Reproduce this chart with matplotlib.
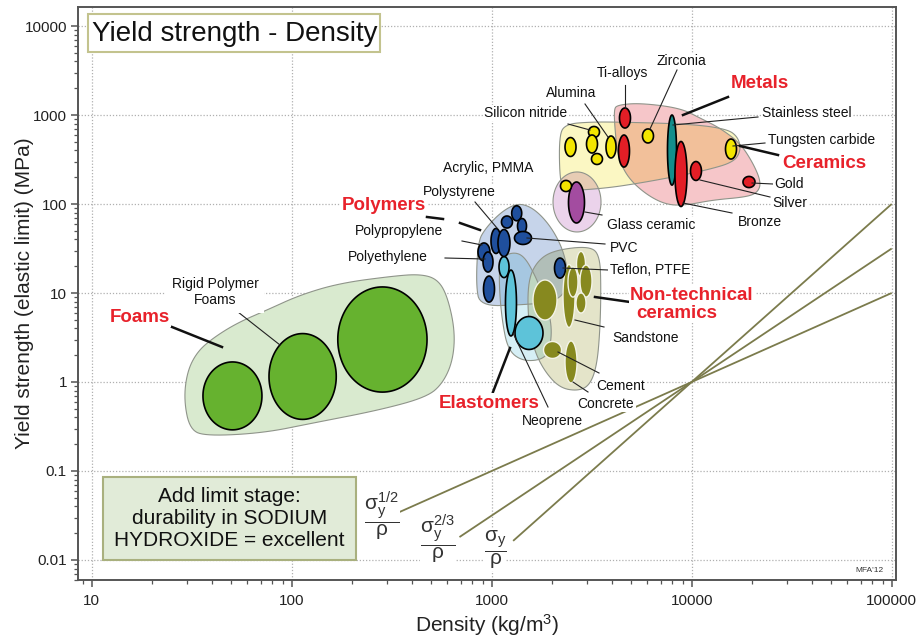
import numpy as np
import matplotlib
matplotlib.use('Agg')
import matplotlib.pyplot as plt
import matplotlib.transforms as mtransforms
from matplotlib.patches import Polygon, Rectangle
from matplotlib.lines import Line2D
from matplotlib.ticker import FixedLocator, LogLocator, NullFormatter, FuncFormatter
from matplotlib.colors import to_rgb

plt.rcParams['font.family'] = ['Liberation Sans', 'DejaVu Sans']
plt.rcParams['mathtext.fontset'] = 'custom'
plt.rcParams['mathtext.rm'] = 'Liberation Sans'
plt.rcParams['mathtext.it'] = 'Liberation Sans:italic'
plt.rcParams['mathtext.bf'] = 'Liberation Sans:bold'
plt.rcParams['mathtext.default'] = 'regular'

# ---------------- data: bubbles (density range kg/m3, yield strength range MPa)
foam_rho = [(36, 71), (77, 167), (170, 475)]
foam_sig = [(0.29, 1.68), (0.38, 3.5), (0.77, 11.7)]

polymer_names = ['PMMA', 'PC', 'PET', 'PVC', 'PS', 'ABS', 'PP', 'HDPE', 'LDPE', 'PTFE']
polymer_rho = [(1259, 1413), (1119, 1270), (1346, 1493), (1300, 1581), (992, 1113),
               (1075, 1234), (854, 980), (905, 1015), (910, 1033), (2061, 2339)]
polymer_sig = [(64.8, 95.5), (53.7, 73.3), (46.6, 68.7), (35.1, 49.1), (27.8, 53.1),
               (25.7, 51.7), (22.9, 36.5), (17.2, 28.9), (7.9, 15.5), (14.7, 24.7)]

elastomer_names = ['Silicone', 'Neoprene', 'Polyurethane']
elastomer_rho = [(1088, 1221), (1172, 1330), (1308, 1805)]
elastomer_sig = [(14.9, 25.7), (3.29, 18.1), (2.32, 5.44)]

nontech_names = ['Stone', 'Cement', 'Concrete', 'Sandstone', 'Brick', 'Limestone', 'Granite', 'Marble']
nontech_rho = [(1609, 2121), (1816, 2234), (2326, 2671), (2273, 2610), (2655, 2944),
               (2764, 3174), (2640, 2962), (2407, 2701)]
nontech_sig = [(4.97, 14.0), (1.84, 2.85), (0.975, 2.89), (4.10, 20.9), (15.3, 29.3),
               (9.0, 20.6), (5.96, 10.0), (9.0, 19.6)]

ceramic_names = ['Silicon carbide', 'Silicon nitride', 'Boron carbide', 'AlN', 'Alumina',
                 'Zirconia', 'Tungsten carbide', 'Glass']
ceramic_rho = [(2326, 2640), (3048, 3459), (2979, 3381), (3155, 3581), (3729, 4184),
               (5675, 6442), (14760, 16750), (2208, 2506)]
ceramic_sig = [(342, 558), (558, 743), (374, 596), (278, 369), (329, 581),
               (485, 697), (320, 537), (138, 184)]

glass_ceramic_rho = [(2421, 2911)]
glass_ceramic_sig = [(61.2, 176.7)]

metal_names = ['Ti-alloys', 'Ti-alloys (2)', 'Stainless steel', 'Bronze', 'Silver', 'Gold']
metal_rho = [(4355, 4943), (4305, 4887), (7568, 8396), (8251, 9474), (9863, 11190), (18050, 20730)]
metal_sig = [(714, 1199), (260, 596), (163, 1000), (93.7, 504), (184, 300), (153, 204)]

# ---------------- data: family envelopes (density, strength vertices)
foam_env = [(28.9, 0.628), (30.0, 1.30), (33.6, 2.17), (40.4, 3.12), (53.3, 4.60), (75.2, 6.44),
            (110, 9.5), (174, 12.9), (321, 15.5), (438, 16.3), (533, 14.4), (598, 9.5),
            (655, 3.84), (641, 1.77), (571, 0.975), (475, 0.678), (276, 0.485), (128, 0.346),
            (71.9, 0.267), (37.7, 0.247), (31.0, 0.289)]
polymer_env = [(854, 37.4), (926, 52.4), (1100, 79.2), (1308, 100), (1502, 97.4), (1744, 77.2),
               (2026, 51.0), (2273, 30.4), (2407, 17.2), (2352, 10.3), (2026, 7.92), (1385, 7.33),
               (874, 7.14), (835, 12.3)]
elastomer_env = [(1100, 24.7), (1278, 28.9), (1450, 26.1), (1646, 15.9), (1847, 8.34), (2002, 4.37),
                 (1956, 2.29), (1784, 1.77), (1418, 1.72), (1206, 2.29), (1126, 4.97), (1088, 12.3)]
nontech_env = [(1519, 14.0), (1704, 23.5), (2073, 30.4), (3101, 33.7), (3479, 26.1), (3520, 10.8),
               (3479, 3.84), (3361, 1.55), (3101, 0.925), (2701, 0.792), (2195, 0.857), (1847, 1.30),
               (1627, 2.29), (1519, 4.97)]
ceramic_env = [(2170, 596), (2352, 792), (3101, 834), (4232, 834), (9806, 792), (15020, 697),
               (17040, 566), (17640, 404), (16280, 296), (11930, 241), (8064, 201), (5514, 172),
               (3772, 151), (2379, 140), (2195, 163)]
metal_env = [(4088, 1138), (4232, 1295), (5514, 1364), (8740, 1199), (11000, 925), (13850, 714),
             (17440, 484), (20260, 289), (22210, 177), (21460, 136), (18900, 120), (12780, 111),
             (9474, 97.4), (7525, 97.4), (5976, 126), (4802, 196), (4280, 337), (4136, 678)]
glass_env_rho = (2026, 3520)
glass_env_sig = (48.5, 229)

# ---------------- data: guide lines (endpoints, density kg/m3 -> strength MPa)
guide_rho = [(339, 100000), (690, 100000), (1280, 100000)]
guide_sig = [(0.0339, 10.0), (0.0181, 31.6), (0.0164, 100.0)]

x_ticks = [10, 100, 1000, 10000, 100000]
y_ticks = [0.01, 0.1, 1, 10, 100, 1000, 10000]

# ---------------- figure
W, H = 920, 637
fig = plt.figure(figsize=(W / 100, H / 100), dpi=100)
ref = mtransforms.Affine2D().scale(1 / W, -1 / H).translate(0, 1) + fig.transFigure

ax = fig.add_axes([78 / W, 1 - 580 / H, (896 - 78) / W, (580 - 7) / H])
ax.set_xscale('log')
ax.set_yscale('log')
ax.set_xlim(8.54, 1.051e5)
ax.set_ylim(0.00596, 16350)
ax.set_axisbelow(True)
ax.grid(True, which='major', color='#b0b0b0', linestyle=(0, (1, 1.5)), linewidth=0.9)

fmt = FuncFormatter(lambda v, p: '%g' % v)
ax.xaxis.set_major_locator(FixedLocator(x_ticks))
ax.yaxis.set_major_locator(FixedLocator(y_ticks))
ax.xaxis.set_major_formatter(fmt)
ax.yaxis.set_major_formatter(fmt)
ax.xaxis.set_minor_locator(LogLocator(base=10, subs=np.arange(2, 10)))
ax.yaxis.set_minor_locator(LogLocator(base=10, subs=np.arange(2, 10)))
ax.xaxis.set_minor_formatter(NullFormatter())
ax.yaxis.set_minor_formatter(NullFormatter())
ax.tick_params(which='major', direction='out', length=5, width=1.1, color='#555555',
               labelsize=11, labelcolor='#222222')
ax.tick_params(which='minor', direction='out', length=3, width=0.9, color='#555555')
ax.tick_params(axis='x', which='major', pad=5)
ax.tick_params(axis='y', which='major', pad=3)
for s in ax.spines.values():
    s.set_color('#555555')
    s.set_linewidth(1.4)

ax.set_xlabel('Density (kg/m$^3$)', fontsize=15, labelpad=3, color='#222222')
ax.set_ylabel('Yield strength (elastic limit) (MPa)', fontsize=15, color='#222222')
ax.yaxis.set_label_coords(-0.054, 0.5)


def mult(c1, c2):
    a, b = np.array(to_rgb(c1)), np.array(to_rgb(c2))
    return tuple(a * b)


def chaikin(verts, n=3):
    pts = np.log10(np.array(verts, dtype=float))
    for _ in range(n):
        nxt = np.roll(pts, -1, axis=0)
        q = 0.75 * pts + 0.25 * nxt
        r = 0.25 * pts + 0.75 * nxt
        new = np.empty((2 * len(pts), 2))
        new[0::2] = q
        new[1::2] = r
        pts = new
    return 10 ** pts


def ellipse_pts(rr, ss, n=120):
    t = np.linspace(0, 2 * np.pi, n, endpoint=False)
    lr, ls = np.log10(rr), np.log10(ss)
    cx, a = (lr[0] + lr[1]) / 2, (lr[1] - lr[0]) / 2
    cy, b = (ls[0] + ls[1]) / 2, (ls[1] - ls[0]) / 2
    return np.column_stack([10 ** (cx + a * np.cos(t)), 10 ** (cy + b * np.sin(t))])


# envelopes (opaque fills + multiply-style overlaps)
envs = [
    (chaikin(metal_env), '#f6c6c9'),
    (chaikin(ceramic_env), '#fbf7c3'),
    (ellipse_pts(glass_env_rho, glass_env_sig), '#ebd3eb'),
    (chaikin(foam_env), '#d9eacf'),
    (chaikin(polymer_env), '#c6d4ea'),
    (chaikin(elastomer_env), '#d6eff5'),
    (chaikin(nontech_env), '#e4e4c9'),
]
base = []
for k, (v, c) in enumerate(envs):
    p = Polygon(v, closed=True, facecolor=c, edgecolor='none', zorder=1 + 0.01 * k)
    ax.add_patch(p)
    base.append(p)
for j in range(len(envs)):
    for i in range(j):
        q = Polygon(envs[j][0], closed=True, facecolor=mult(envs[i][1], envs[j][1]),
                    edgecolor='none', zorder=1.2 + 0.01 * j)
        ax.add_patch(q)
        q.set_clip_path(base[i])
for v, c in envs:
    ax.add_patch(Polygon(v, closed=True, fill=False, edgecolor='#8f948a', linewidth=0.8, zorder=1.5))

# guide lines
for rr, ss in zip(guide_rho, guide_sig):
    ax.plot(rr, ss, color='#7b7b4c', linewidth=1.3, zorder=1.6, solid_capstyle='butt')


def bubbles(rhos, sigs, face, edge='black', lw=1.2, z=3):
    for k, (rr, ss) in enumerate(zip(rhos, sigs)):
        v = ellipse_pts(rr, ss)
        ax.add_patch(Polygon(v, closed=True, facecolor=face, edgecolor=edge, linewidth=lw, zorder=z + 0.001 * k))


bubbles(foam_rho, foam_sig, '#66b22f')
bubbles(polymer_rho, polymer_sig, '#1f4f9d')
bubbles(elastomer_rho, elastomer_sig, '#5dc3d9')
bubbles(nontech_rho, nontech_sig, '#87891f', edge='#f4f4e8', lw=1.0)
bubbles(glass_ceramic_rho, glass_ceramic_sig, '#a34ca0')
bubbles(ceramic_rho, ceramic_sig, '#f3e500')
metal_face = ['#e31e26', '#e31e26', '#138e8c', '#e31e26', '#e31e26', '#e31e26']
for k, (rr, ss) in enumerate(zip(metal_rho, metal_sig)):
    ax.add_patch(Polygon(ellipse_pts(rr, ss), closed=True, facecolor=metal_face[k],
                         edgecolor='black', linewidth=1.2, zorder=3.5 + 0.01 * k))

# ---------------- annotations (reference-pixel layout)
wbox = dict(facecolor='white', edgecolor='none', pad=1)
small_labels = [
    ('Ti-alloys', 622, 73), ('Zirconia', 681, 61), ('Alumina', 571, 93),
    ('Silicon nitride', 526, 113), ('Stainless steel', 807, 113), ('Tungsten carbide', 822, 140),
    ('Gold', 789, 184), ('Silver', 790, 203), ('Bronze', 760, 222), ('Glass ceramic', 651, 225),
    ('Acrylic, PMMA', 488, 168), ('Polystyrene', 459, 192), ('Polypropylene', 399, 231),
    ('Polyethylene', 388, 257), ('PVC', 624, 248), ('Teflon, PTFE', 650, 270),
    ('Sandstone', 646, 338), ('Cement', 621, 386), ('Concrete', 606, 404),
    ('Neoprene', 552, 421),
]
for s, x, y in small_labels:
    fig.text(x, y, s, transform=ref, fontsize=10, ha='center', va='center', color='#111111',
             bbox=wbox, zorder=5)
fig.text(215, 292, 'Rigid Polymer\nFoams', transform=ref, fontsize=10, ha='center', va='center',
         color='#111111', linespacing=1.25,
         bbox=dict(facecolor='white', edgecolor='none', pad=4), zorder=5)

red = '#e8222b'
red_labels = [('Metals', 760, 83, 'center'), ('Ceramics', 824, 163, 'center'),
              ('Polymers', 384, 205, 'center'), ('Foams', 140, 317, 'center'),
              ('Elastomers', 489, 403, 'center'), ('Non-technical', 630, 295, 'left'),
              ('ceramics', 636, 313, 'left')]
for s, x, y, ha in red_labels:
    fig.text(x, y, s, transform=ref, fontsize=13.5, fontweight='bold', ha=ha, va='center',
             color=red, bbox=wbox, zorder=5)

thin = [((625, 85), (625, 108)), ((677, 70), (650, 129)), ((585, 104), (608, 137)),
        ((568, 124), (590, 130)), ((758, 117), (673, 125)), ((765, 143), (733, 146)),
        ((773, 184), (752, 183)), ((770, 197), (700, 180)), ((732, 213), (683, 203)),
        ((602, 215), (585, 212)), ((475, 202), (497, 228)), ((462, 241), (482, 245)),
        ((445, 258), (485, 259)), ((605, 244), (527, 238)), ((608, 270), (563, 268)),
        ((604, 327), (575, 320)), ((599, 373), (558, 352)), ((588, 392), (573, 382)),
        ((548, 407), (513, 333)), ((238, 312), (280, 345))]
for (x0, y0), (x1, y1) in thin:
    fig.add_artist(Line2D([x0, x1], [y0, y1], transform=ref, color='#222222', linewidth=0.8, zorder=4))
thick = [((728, 97), (683, 115)), ((778, 155), (740, 146)), ((427, 217), (443, 219)),
         ((460, 223), (480, 230)), ((172, 327), (222, 347)), ((493, 392), (510, 348)),
         ((630, 302), (595, 297))]
for (x0, y0), (x1, y1) in thick:
    fig.add_artist(Line2D([x0, x1], [y0, y1], transform=ref, color='#111111', linewidth=1.8, zorder=4))

# guide labels
guide_labels = [(r'$\dfrac{\sigma_y^{1/2}}{\rho}$', 382, 516),
                (r'$\dfrac{\sigma_y^{2/3}}{\rho}$', 438, 539),
                (r'$\dfrac{\sigma_y}{\rho}$', 495, 550)]
for s, x, y in guide_labels:
    fig.text(x, y, s, transform=ref, fontsize=15, ha='center', va='center', color='#333333',
             bbox=dict(facecolor='white', edgecolor='none', pad=0), zorder=5)

fig.text(869, 571, "MFA'12", transform=ref, fontsize=6, ha='center', va='center', color='#333333',
         bbox=dict(facecolor='white', edgecolor='none', pad=1), zorder=5)

# title box
fig.add_artist(Rectangle((88, 52), 292, -38, transform=ref, facecolor='white',
                         edgecolor='#c3c38e', linewidth=1.5, zorder=6))
fig.text(92, 34, 'Yield strength - Density', transform=ref, fontsize=20, ha='left', va='center',
         color='#111111', zorder=7)

# note box
fig.add_artist(Rectangle((103, 560), 253, -83, transform=ref, facecolor='#e1ebd8',
                         edgecolor='#a9b07e', linewidth=1.5, zorder=6))
fig.text(229.5, 519, 'Add limit stage:\ndurability in SODIUM\nHYDROXIDE = excellent', transform=ref,
         fontsize=15, ha='center', va='center', linespacing=1.2, color='#111111', zorder=7)

fig.savefig('out.png', dpi=100, facecolor='white')
